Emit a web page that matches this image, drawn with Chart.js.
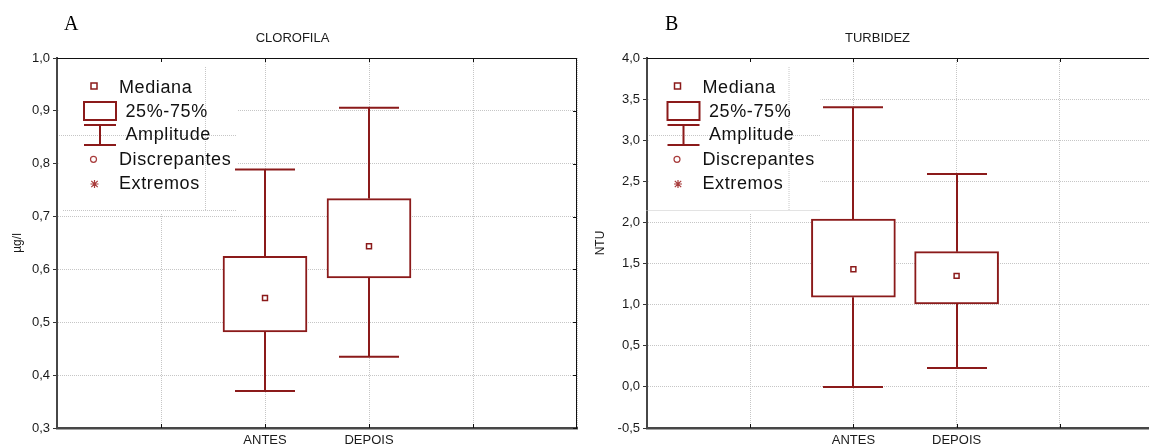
<!DOCTYPE html>
<html><head><meta charset="utf-8">
<script src="https://cdn.jsdelivr.net/npm/chart.js@4.4.1/dist/chart.umd.min.js"></script>
<style>
html,body{margin:0;padding:0;background:#fff;overflow:hidden;width:1149px;height:446px;}
#wrap{position:relative;width:1149px;height:446px;overflow:hidden;}
canvas{position:absolute;top:0;}
#cA{left:0}
#cB{left:585px}
</style></head><body>
<div id="wrap"><canvas id="cA" width="585" height="446"></canvas><canvas id="cB" width="585" height="446"></canvas></div>
<script>
// ---- data ----
const categories = ['ANTES', 'DEPOIS'];
const xLabels = ['', '', 'ANTES', 'DEPOIS', '', ''];
const legendLabels = ['Mediana', '25%-75%', 'Amplitude', 'Discrepantes', 'Extremos'];

// CLOROFILA (µg/l)
const cloroMin = [0.370, 0.435];
const cloroQ1  = [0.482, 0.584];
const cloroMed = [0.546, 0.644];
const cloroQ3  = [0.625, 0.734];
const cloroMax = [0.789, 0.906];

// TURBIDEZ (NTU)
const turbMin = [0.00, 0.23];
const turbQ1  = [1.09, 1.01];
const turbMed = [1.43, 1.35];
const turbQ3  = [2.04, 1.645];
const turbMax = [3.40, 2.59];

const MAROON = '#8b1a1a';
const GRID = '#c6c6c6';
const FONT = '"Liberation Sans", Arial, sans-serif';

function drawLegend(chart, o) {
  const {ctx, chartArea: a} = chart;
  const L = a.left + o.legendDx, T = a.top;
  ctx.save();
  ctx.fillStyle = '#fff';
  ctx.fillRect(a.left + 1.5, T + 3, L + 175 - (a.left + 1.5), 152);
  // faint dotted lines inside legend frame
  ctx.strokeStyle = GRID; ctx.lineWidth = 1; ctx.setLineDash([1, 1]);
  ctx.beginPath();
  ctx.moveTo(a.left + 2, T + 77.5); ctx.lineTo(L + 175, T + 77.5);
  ctx.moveTo(L + 1, T + 152.5); ctx.lineTo(L + 175, T + 152.5);
  ctx.moveTo(L + 143.5, T + 9); ctx.lineTo(L + 143.5, T + 153);
  ctx.stroke();
  ctx.setLineDash([]);
  // icons
  ctx.strokeStyle = MAROON;
  ctx.lineWidth = 1.5;
  ctx.strokeRect(L + 29, T + 25, 6, 6);
  ctx.lineWidth = 2;
  ctx.strokeRect(L + 22, T + 44, 32, 18);
  ctx.beginPath();
  ctx.moveTo(L + 22, T + 67); ctx.lineTo(L + 54, T + 67);
  ctx.moveTo(L + 38, T + 67); ctx.lineTo(L + 38, T + 87);
  ctx.moveTo(L + 22, T + 87); ctx.lineTo(L + 54, T + 87);
  ctx.stroke();
  ctx.strokeStyle = '#a83c3c'; ctx.lineWidth = 1.2;
  ctx.beginPath(); ctx.arc(L + 31.5, T + 101.3, 3, 0, Math.PI * 2); ctx.stroke();
  const cx = L + 32.5, cy = T + 126, r = 4;
  ctx.beginPath();
  ctx.moveTo(cx, cy - r); ctx.lineTo(cx, cy + r);
  ctx.moveTo(cx - r, cy); ctx.lineTo(cx + r, cy);
  ctx.moveTo(cx - r * 0.8, cy - r * 0.8); ctx.lineTo(cx + r * 0.8, cy + r * 0.8);
  ctx.moveTo(cx + r * 0.8, cy - r * 0.8); ctx.lineTo(cx - r * 0.8, cy + r * 0.8);
  ctx.stroke();
  // texts
  ctx.fillStyle = '#111';
  ctx.font = '18px ' + FONT;
  ctx.letterSpacing = '0.6px';
  ctx.textAlign = 'left'; ctx.textBaseline = 'alphabetic';
  const xs = [57, 63.5, 63.5, 57, 57];
  const ys = [34.7, 58.7, 82, 107, 131];
  legendLabels.forEach((t, i) => ctx.fillText(t, L + xs[i], T + ys[i]));
  ctx.restore();
}

function drawWhiskers(chart, o) {
  const {ctx, scales: {x, y}} = chart;
  ctx.save();
  ctx.strokeStyle = MAROON; ctx.lineWidth = 2;
  o.categories.forEach((c, i) => {
    const px = Math.round(x.getPixelForValue(xLabels.indexOf(c)));
    const yMax = y.getPixelForValue(o.max[i]), yQ3 = y.getPixelForValue(o.q3[i]);
    const yQ1 = y.getPixelForValue(o.q1[i]), yMin = y.getPixelForValue(o.min[i]);
    ctx.beginPath();
    ctx.moveTo(px, yMax); ctx.lineTo(px, yQ3);
    ctx.moveTo(px, yQ1); ctx.lineTo(px, yMin);
    ctx.moveTo(px - 30, yMax); ctx.lineTo(px + 30, yMax);
    ctx.moveTo(px - 30, yMin); ctx.lineTo(px + 30, yMin);
    ctx.stroke();
  });
  ctx.restore();
}

function drawFrame(chart, o) {
  const {ctx, chartArea: a, scales: {x, y}} = chart;
  ctx.save();
  ctx.strokeStyle = '#111'; ctx.lineWidth = 1;
  ctx.beginPath();
  ctx.moveTo(a.left, a.top + 0.5); ctx.lineTo(a.right, a.top + 0.5);
  ctx.moveTo(a.right - 0.5, a.top); ctx.lineTo(a.right - 0.5, a.bottom);
  x.ticks.forEach((t, i) => {
    if (i === 0 || i === x.ticks.length - 1) return;
    const px = Math.round(x.getPixelForTick(i)) + 0.5;
    ctx.moveTo(px, a.top); ctx.lineTo(px, a.top + 4);
    ctx.moveTo(px, a.bottom); ctx.lineTo(px, a.bottom - 4);
  });
  y.ticks.forEach((t, i) => {
    const py = Math.round(y.getPixelForTick(i)) + 0.5;
    ctx.moveTo(a.right, py); ctx.lineTo(a.right - 4, py);
  });
  ctx.stroke();
  // letter + title
  ctx.fillStyle = '#000';
  ctx.font = '20px "Liberation Serif", "Times New Roman", serif';
  ctx.textAlign = 'left'; ctx.textBaseline = 'alphabetic';
  ctx.fillText(o.letter, o.letterX, 30);
  ctx.fillStyle = '#1a1a1a';
  ctx.font = '13px ' + FONT;
  ctx.textAlign = 'center';
  ctx.fillText(o.title, chart.width / 2, 41.5);
  ctx.restore();
}

const boxExtras = {
  id: 'boxExtras',
  beforeDatasetsDraw(chart, args, o) { drawLegend(chart, o); },
  afterDatasetsDraw(chart, args, o) { drawWhiskers(chart, o); },
  afterDraw(chart, args, o) { drawFrame(chart, o); }
};

function fmt(v) { return Number(v).toFixed(1).replace('.', ','); }

function makeChart(id, cfg) {
  const byLabel = fn => xLabels.map(l => { const i = categories.indexOf(l); return i < 0 ? null : fn(i); });
  return new Chart(document.getElementById(id), {
    type: 'bar',
    plugins: [boxExtras],
    data: {
      labels: xLabels,
      datasets: [
        { type: 'line', data: byLabel(i => cfg.med[i]), showLine: false, pointStyle: 'rect',
          pointRadius: 3.5, pointBorderWidth: 1.5, pointBorderColor: MAROON, pointBackgroundColor: '#fff', order: 0 },
        { type: 'bar', data: byLabel(i => [cfg.q1[i], cfg.q3[i]]), backgroundColor: '#fff', borderColor: MAROON,
          borderWidth: 2, borderSkipped: false, barThickness: 84, order: 1 }
      ]
    },
    options: {
      responsive: false, animation: false, events: [],
      layout: { padding: { top: 58, right: cfg.padRight, left: 0, bottom: 0 } },
      plugins: {
        legend: { display: false }, tooltip: { enabled: false }, title: { display: false },
        boxExtras: { categories, min: cfg.min, q1: cfg.q1, q3: cfg.q3, max: cfg.max,
          legendDx: cfg.legendDx, letter: cfg.letter, letterX: cfg.letterX, title: cfg.title }
      },
      scales: {
        x: {
          type: 'category', offset: false,
          grid: { offset: false, color: GRID, lineWidth: 1, drawTicks: false },
          border: { display: true, color: '#474747', width: 2.5, dash: [1, 1] },
          ticks: { autoSkip: false, maxRotation: 0, padding: 5, color: '#1a1a1a', font: { family: FONT, size: 13 } },
          afterFit: s => { s.height = 18; }
        },
        y: {
          min: cfg.yMin, max: cfg.yMax,
          ticks: { stepSize: cfg.step, padding: 3, color: '#1a1a1a', font: { family: FONT, size: 13 }, callback: v => fmt(v) },
          grid: { color: GRID, lineWidth: 1, drawTicks: true, tickLength: 4, tickColor: '#333', tickWidth: 1 },
          border: { display: true, color: '#474747', width: 2, dash: [1, 1] },
          title: { display: true, text: cfg.yTitle, color: '#1a1a1a', font: { family: FONT, size: 12 }, padding: { top: cfg.yTitlePad, bottom: 0 } },
          afterFit: s => { s.width = cfg.yWidth; }
        }
      }
    }
  });
}

makeChart('cA', { min: cloroMin, q1: cloroQ1, med: cloroMed, q3: cloroQ3, max: cloroMax,
  yMin: 0.3, yMax: 1.0, step: 0.1, yTitle: 'µg/l', yTitlePad: 10, yWidth: 57, padRight: 8,
  legendDx: 5, letter: 'A', letterX: 64, title: 'CLOROFILA' });
makeChart('cB', { min: turbMin, q1: turbQ1, med: turbMed, q3: turbQ3, max: turbMax,
  yMin: -0.5, yMax: 4.0, step: 0.5, yTitle: 'NTU', yTitlePad: 8.5, yWidth: 62, padRight: 7,
  legendDx: -1.5, letter: 'B', letterX: 80, title: 'TURBIDEZ' });
</script>
</body></html>
